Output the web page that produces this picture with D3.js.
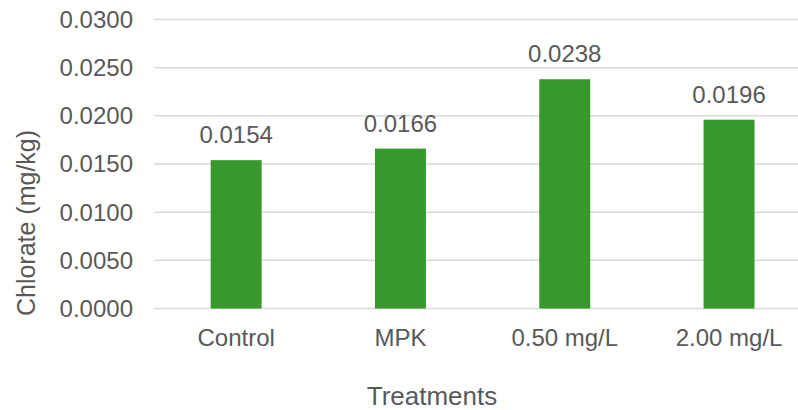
<!DOCTYPE html>
<html><head><meta charset="utf-8">
<script src="https://cdn.jsdelivr.net/npm/d3@7"></script>
<style>body{margin:0;background:#fff}svg{display:block}text{font-family:"Liberation Sans",Arial,sans-serif;fill:#595959}</style>
</head><body><svg id="c" width="798" height="410"></svg>
<script>
const categories = ["Control", "MPK", "0.50 mg/L", "2.00 mg/L"];
const values = [0.0154, 0.0166, 0.0238, 0.0196];
const labels = ["0.0154", "0.0166", "0.0238", "0.0196"];
const yTicks = [0, 0.005, 0.01, 0.015, 0.02, 0.025, 0.03];
const yTitle = "Chlorate (mg/kg)";
const xTitle = "Treatments";

const svg = d3.select("#c");
const x = d3.scaleBand().domain(categories).range([154, 154 + 4 * 164.3]).paddingInner(0.69).paddingOuter(0.345);
const y = d3.scaleLinear().domain([0, 0.03]).range([308.5, 19.5]);

const grid = svg.append("g");
grid.selectAll("line").data(yTicks).join("line")
  .attr("x1", 154).attr("x2", 820)
  .attr("y1", d => y(d)).attr("y2", d => y(d))
  .attr("stroke", "#d9d9d9").attr("stroke-width", 1.5);

svg.append("g").selectAll("text").data(yTicks).join("text")
  .attr("x", 133).attr("y", d => y(d)).attr("dy", "0.35em")
  .attr("text-anchor", "end").style("font-size", "24px")
  .text(d => d3.format(".4f")(d));

svg.append("g").selectAll("rect").data(values).join("rect")
  .attr("x", (d, i) => x(categories[i])).attr("width", x.bandwidth())
  .attr("y", d => y(d)).attr("height", d => y(0) - y(d))
  .attr("fill", "#37982c");

svg.append("g").selectAll("text").data(values).join("text")
  .attr("x", (d, i) => x(categories[i]) + x.bandwidth() / 2)
  .attr("y", d => y(d) - 17)
  .attr("text-anchor", "middle").style("font-size", "24px")
  .text((d, i) => labels[i]);

svg.append("g").selectAll("text").data(categories).join("text")
  .attr("x", d => x(d) + x.bandwidth() / 2).attr("y", 346)
  .attr("text-anchor", "middle").style("font-size", "24px")
  .text(d => d);

svg.append("text").attr("x", 432).attr("y", 405).attr("text-anchor", "middle")
  .style("font-size", "26px").text(xTitle);

svg.append("text").attr("transform", "translate(35,223) rotate(-90)")
  .attr("text-anchor", "middle").style("font-size", "25px").text(yTitle);
</script></body></html>
